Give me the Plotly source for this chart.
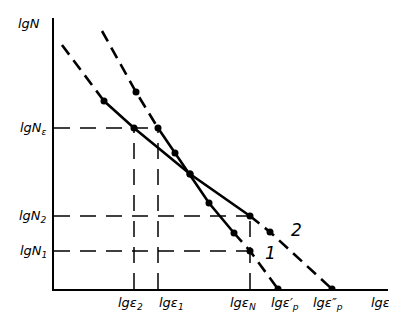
import plotly.graph_objects as go

# ---- data (arbitrary log units) ----
# curve 1 (steeper line)
c1_x = [4.8, 8.2, 10.4, 12.1, 13.6, 15.5, 18.0, 19.6, 22.4]
c1_y = [25.8, 19.7, 16.1, 13.6, 11.5, 8.6, 5.6, 3.8, 0.0]
# curve 2 (flatter line)
c2_x = [0.8, 5.0, 8.0, 13.6, 19.6, 21.6, 27.8]
c2_y = [24.4, 18.8, 16.1, 11.5, 7.3, 5.7, 0.0]

# reference levels
y_tick_vals = [16.1, 7.3, 3.8]
y_tick_text = ["lgN<sub>ε</sub>", "lgN<sub>2</sub>", "lgN<sub>1</sub>"]
x_tick_vals = [8.0, 10.4, 19.6, 22.4, 27.8]
x_tick_text = ["lgε<sub>2</sub>", "lgε<sub>1</sub>", "lgε<sub>N</sub>",
               "lgε′<sub>p</sub>", "lgε″<sub>p</sub>"]
curve_names = ["1", "2"]

# ---- styles ----
x_label_shift = [-4, 13, -7, 7, -4]
LW = 2.6
DASH = "12px,7px"
GUIDE_DASH = "16px,10px"
FONT = dict(family="DejaVu Sans", size=13, color="black")
NUM_FONT = dict(family="DejaVu Sans", size=17, color="black")

fig = go.Figure()

def seg(xs, ys, dash):
    fig.add_trace(go.Scatter(x=xs, y=ys, mode="lines",
                             line=dict(color="black", width=LW, dash=dash),
                             hoverinfo="skip", showlegend=False))

# guide lines
gx, gy = [], []
for yv, xe in [(y_tick_vals[0], x_tick_vals[1]),
               (y_tick_vals[1], x_tick_vals[2]),
               (y_tick_vals[2], x_tick_vals[2])]:
    gx += [0, xe, None]
    gy += [yv, yv, None]
for xv, ye in [(x_tick_vals[0], y_tick_vals[0]),
               (x_tick_vals[1], y_tick_vals[0]),
               (x_tick_vals[2], y_tick_vals[1])]:
    gx += [xv, xv, None]
    gy += [0, ye, None]
fig.add_trace(go.Scatter(x=gx, y=gy, mode="lines",
                         line=dict(color="black", width=1.5, dash=GUIDE_DASH),
                         hoverinfo="skip", showlegend=False))

# curve 1
seg(c1_x[0:3], c1_y[0:3], DASH)
seg(c1_x[2:7], c1_y[2:7], "solid")
seg(c1_x[6:], c1_y[6:], DASH)
# curve 2
seg(c2_x[0:2], c2_y[0:2], DASH)
seg(c2_x[1:5], c2_y[1:5], "solid")
seg(c2_x[4:], c2_y[4:], DASH)

# dots
fig.add_trace(go.Scatter(x=c1_x[1:] + c2_x[1:], y=c1_y[1:] + c2_y[1:],
                         mode="markers",
                         marker=dict(color="black", size=7),
                         hoverinfo="skip", showlegend=False))

ann = []
for v, t, s in zip(x_tick_vals, x_tick_text, x_label_shift):
    ann.append(dict(x=v, y=0, xref="x", yref="y", text="<i>" + t + "</i>",
                    showarrow=False, xanchor="center", yanchor="top",
                    xshift=s, yshift=-4, font=FONT))
ann.append(dict(x=32.6, y=0, xref="x", yref="y", text="<i>lgε</i>",
                showarrow=False, xanchor="center", yanchor="top",
                yshift=-4, font=FONT))
for v, t in zip(y_tick_vals, y_tick_text):
    ann.append(dict(x=0, y=v, xref="x", yref="y", text="<i>" + t + "</i>",
                    showarrow=False, xanchor="right", yanchor="middle",
                    xshift=-5, font=FONT))
ann.append(dict(x=0, y=26.6, xref="x", yref="y", text="<i>lgN</i>",
                showarrow=False, xanchor="right", yanchor="middle",
                xshift=-12, font=FONT))
# curve numbers
ann.append(dict(x=21.6, y=3.6, xref="x", yref="y", text="<i>" + curve_names[0] + "</i>",
                showarrow=False, font=NUM_FONT))
ann.append(dict(x=24.2, y=5.9, xref="x", yref="y", text="<i>" + curve_names[1] + "</i>",
                showarrow=False, font=NUM_FONT))

# page body adds an 8px margin, so the figure is sized/shifted to compensate
fig.update_layout(
    width=389, height=307,
    margin=dict(l=46, r=9, t=10, b=26),
    paper_bgcolor="white", plot_bgcolor="white",
    annotations=ann,
    xaxis=dict(range=[0, 33.4], showline=True, linecolor="black", linewidth=2,
               showgrid=False, zeroline=False, showticklabels=False, ticks=""),
    yaxis=dict(range=[0, 27.1], showline=True, linecolor="black", linewidth=2,
               showgrid=False, zeroline=False, showticklabels=False, ticks=""),
)

fig.write_html("out.html")
